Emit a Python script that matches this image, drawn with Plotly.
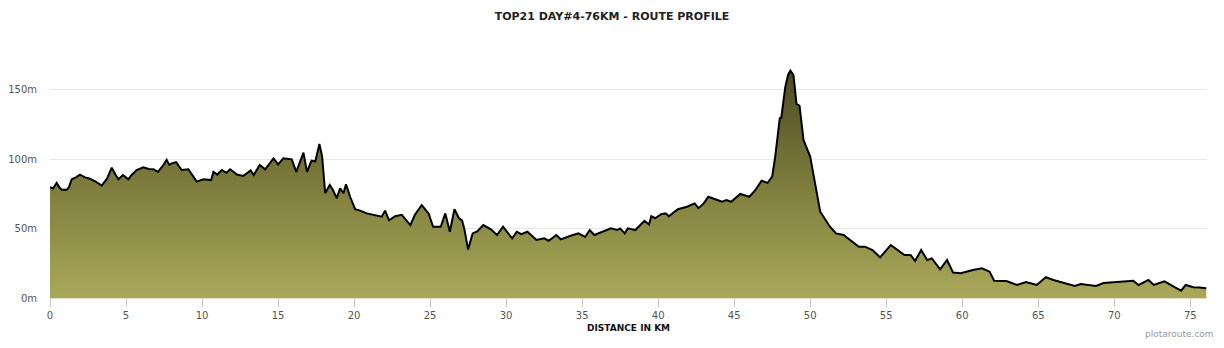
import plotly.graph_objects as go

distance_km = [
    0.0, 0.2, 0.44, 0.6, 0.77, 1.1, 1.25, 1.43, 1.7, 1.97, 2.3, 2.63, 3.0, 3.4, 3.75,
    4.06, 4.3, 4.5, 4.8, 5.15, 5.37, 5.7, 6.14, 6.5, 6.8, 7.1, 7.4, 7.67, 7.85, 8.0,
    8.3, 8.66, 9.1, 9.4, 9.65, 10.1, 10.6, 10.75, 11.0, 11.3, 11.6, 11.85, 12.3, 12.7,
    13.2, 13.4, 13.8, 14.15, 14.7, 15.0, 15.35, 15.9, 16.2, 16.67, 16.9, 17.2, 17.45,
    17.72, 17.9, 18.1, 18.4, 18.6, 18.86, 19.08, 19.3, 19.47, 19.74, 20.07, 20.4, 20.84,
    21.3, 21.82, 22.04, 22.3, 22.7, 23.14, 23.7, 24.0, 24.45, 24.9, 25.2, 25.7, 26.0,
    26.3, 26.6, 26.9, 27.1, 27.25, 27.5, 27.8, 28.1, 28.5, 29.0, 29.4, 29.8, 30.4, 30.7,
    31.0, 31.4, 32.0, 32.5, 32.8, 33.3, 33.6, 34.2, 34.75, 35.2, 35.5, 35.8, 36.4, 36.9,
    37.3, 37.5, 37.8, 38.0, 38.5, 39.1, 39.4, 39.55, 39.8, 40.2, 40.5, 40.7, 41.3, 41.9,
    42.4, 42.65, 43.0, 43.3, 43.8, 44.2, 44.5, 44.8, 45.4, 46.0, 46.4, 46.8, 47.2, 47.5,
    47.7, 48.0, 48.1, 48.36, 48.55, 48.7, 48.9, 49.1, 49.3, 49.56, 50.0, 50.66, 51.3,
    51.7, 52.2, 52.6, 53.2, 53.6, 54.1, 54.6, 55.3, 55.6, 56.2, 56.6, 56.9, 57.3, 57.7,
    58.0, 58.55, 59.0, 59.4, 59.9, 60.7, 61.3, 61.8, 62.1, 62.9, 63.6, 64.2, 64.9, 65.5,
    66.0, 66.6, 67.4, 67.8, 68.8, 69.3, 69.95, 70.6, 71.25, 71.6, 72.25, 72.6, 73.3,
    74.0, 74.4, 74.7, 75.2, 75.6, 76.05,
]

elevation_m = [
    80, 79, 83, 80, 78, 78, 80, 85.6, 87, 89, 87, 86, 84, 81, 86,
    94, 89, 85.6, 88.7, 85.6, 88.7, 92.3, 94.2, 93, 92.8, 91, 95, 99.5, 96, 97,
    98, 92.3, 92.8, 88, 83.9, 85.6, 85, 91, 89, 92.3, 90.3, 92.8, 89, 88,
    92, 88.7, 95.9, 92.8, 100.7, 96.3, 100.7, 100, 91, 104.8, 91, 99, 98.5,
    111, 102, 75.5, 81.5, 78, 72, 79, 75.5, 82, 73, 64, 63, 61,
    60, 58.6, 63, 56, 59, 60, 52.6, 60, 67, 61, 51.4, 51.4, 61,
    47.8, 64, 57.5, 56, 50, 35, 46.6, 48, 52.6, 49.5, 45.4, 51.4, 43, 47.8,
    46, 47.8, 41.8, 43, 41.3, 45.4, 42.3, 44.7, 46.6, 44, 49, 45.4, 47.8, 50.2,
    49, 50.2, 46.6, 50.2, 49, 55.7, 53, 59, 57.5, 60.5, 61, 58.9, 64, 65.8,
    68.2, 64.8, 68.2, 73, 71, 69.4, 70.6, 69.4, 75, 73, 77.9, 84.6, 83, 87.5,
    102, 129.6, 130, 152, 161, 164, 160.8, 140, 138.6, 114, 102, 62.2, 51.4,
    46.6, 45.4, 42.3, 37, 37, 34.6, 29.3, 38.2, 35.8, 31, 31, 26.8, 34.6, 27.4,
    28.5, 20.7, 27.4, 18.3, 17.8, 20.2, 21.4, 19, 12.5, 12.3, 9.4, 11.5, 9.4, 15,
    13, 11, 8.7, 10, 8.7, 10.8, 11.3, 12, 12.5, 9.4, 13, 9.4, 12,
    7.7, 5.3, 9.4, 7.7, 7.5, 7,
]

x_ticks = [0, 5, 10, 15, 20, 25, 30, 35, 40, 45, 50, 55, 60, 65, 70, 75]
y_ticks = [0, 50, 100, 150]
y_tick_labels = ["0m", "50m", "100m", "150m"]

fig = go.Figure()
fig.add_trace(go.Scatter(
    x=distance_km,
    y=elevation_m,
    mode="lines",
    line=dict(color="#000000", width=2),
    fill="tozeroy",
    fillgradient=dict(
        type="vertical",
        start=0,
        stop=165,
        colorscale=[[0, "#a9a85a"], [0.5, "#7d7c3c"], [1, "#4a4a22"]],
    ),
    hoverinfo="skip",
    showlegend=False,
))

fig.update_layout(
    width=1224,
    height=348,
    margin=dict(l=50, r=17, t=65, b=50, autoexpand=False),
    paper_bgcolor="#ffffff",
    plot_bgcolor="#ffffff",
    title=dict(
        text="TOP21 DAY#4-76KM - ROUTE PROFILE",
        x=0.5, xanchor="center",
        y=1 - 16 / 348, yanchor="middle", yref="container",
        font=dict(family="DejaVu Sans", size=11, color="#222222", weight="bold"),
    ),
    xaxis=dict(
        range=[0, 76.1],
        tickvals=x_ticks,
        ticks="outside",
        ticklen=8,
        tickcolor="#c8c8c8",
        tickwidth=1,
        showgrid=False,
        showline=True,
        linecolor="#e0e0d0",
        linewidth=1,
        zeroline=False,
        automargin=False,
        tickfont=dict(family="DejaVu Sans", size=10, color="#555555"),
    ),
    yaxis=dict(
        range=[0, 168],
        tickvals=y_ticks,
        ticktext=y_tick_labels,
        showgrid=True,
        gridcolor="#e6e6e6",
        gridwidth=1,
        zeroline=False,
        showline=False,
        ticks="",
        automargin=False,
        ticklabelstandoff=12,
        tickfont=dict(family="DejaVu Sans", size=10, color="#555555"),
    ),
    annotations=[
        dict(
            text="DISTANCE IN KM",
            xref="paper", yref="paper",
            x=0.5, y=(298 - 328) / 233,
            xanchor="center", yanchor="middle",
            showarrow=False,
            font=dict(family="DejaVu Sans", size=9, color="#111111", weight="bold"),
        ),
        dict(
            text="plotaroute.com",
            xref="paper", yref="paper",
            x=(1216 - 50) / 1157, y=(298 - 334) / 233,
            xanchor="right", yanchor="middle",
            showarrow=False,
            font=dict(family="DejaVu Sans", size=9, color="#999999"),
        ),
    ],
)

fig.write_html("out.html")
